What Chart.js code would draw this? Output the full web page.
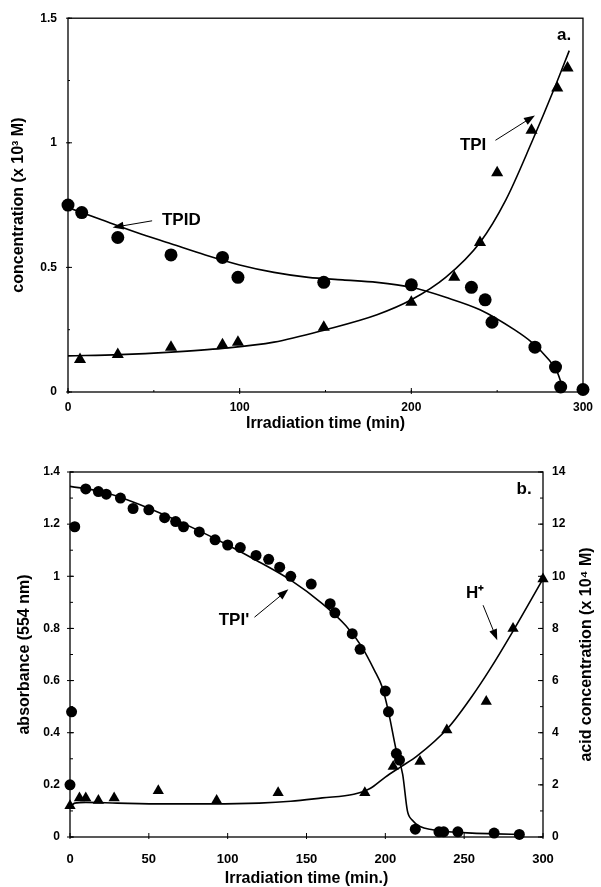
<!DOCTYPE html>
<html>
<head>
<meta charset="utf-8">
<script src="https://cdn.jsdelivr.net/npm/chart.js@4.4.1/dist/chart.umd.min.js"></script>
<style>
  html, body { margin: 0; padding: 0; background: #fff; }
  body { width: 601px; height: 887px; position: relative; overflow: hidden; }
  canvas { position: absolute; left: 0; }
  #chartA { top: 0; }
  #chartB { top: 440px; }
</style>
</head>
<body>
<canvas id="chartA" width="601" height="435"></canvas>
<canvas id="chartB" width="601" height="447"></canvas>
<script>
// ---- panel a: concentration (x 10^3 M) vs irradiation time (min) ----
var tpidTime = [0, 8, 29, 60, 90, 99, 149, 200, 235, 243, 247, 272, 284, 287, 300];
var tpidConc = [0.75, 0.72, 0.62, 0.55, 0.54, 0.46, 0.44, 0.43, 0.42, 0.37, 0.28, 0.18, 0.10, 0.02, 0.01];
var tpiTime = [7, 29, 60, 90, 99, 149, 200, 225, 240, 250, 270, 285, 291];
var tpiConc = [0.13, 0.15, 0.18, 0.19, 0.20, 0.26, 0.36, 0.46, 0.60, 0.88, 1.05, 1.22, 1.30];
// fitted curves
var tpidFitTime = [0, 20, 40, 60, 80, 100, 120, 140, 160, 180, 200, 220, 240, 260, 270, 280, 285, 289];
var tpidFit = [0.74, 0.69, 0.64, 0.595, 0.55, 0.51, 0.48, 0.46, 0.45, 0.44, 0.42, 0.38, 0.33, 0.25, 0.20, 0.13, 0.08, 0.0];
var tpiFitTime = [0, 30, 60, 90, 120, 150, 180, 200, 220, 240, 255, 270, 284, 292];
var tpiFit = [0.145, 0.15, 0.16, 0.175, 0.20, 0.25, 0.31, 0.37, 0.46, 0.60, 0.77, 1.0, 1.23, 1.37];

// ---- panel b: absorbance (554 nm) and acid concentration (x 10^4 M) ----
var radTime = [0, 1, 3, 10, 18, 23, 32, 40, 50, 60, 67, 72, 82, 92, 100, 108, 118, 126, 133, 140, 153, 165, 168, 179, 184, 200, 202, 207, 209, 219, 234, 237, 246, 269, 285];
var radAbs = [0.20, 0.48, 1.19, 1.335, 1.325, 1.315, 1.30, 1.26, 1.255, 1.225, 1.21, 1.19, 1.17, 1.14, 1.12, 1.11, 1.08, 1.065, 1.035, 1.00, 0.97, 0.895, 0.86, 0.78, 0.72, 0.56, 0.48, 0.32, 0.295, 0.03, 0.02, 0.02, 0.02, 0.015, 0.01];
var acidTime = [0, 6, 10, 18, 28, 56, 93, 132, 187, 205, 222, 239, 264, 281, 300];
var acidConc = [1.2, 1.5, 1.5, 1.4, 1.5, 1.77, 1.4, 1.7, 1.7, 2.7, 2.9, 4.1, 5.2, 8.0, 9.9];
// fitted curves
var radFitTime = [0, 20, 40, 60, 80, 100, 120, 140, 160, 175, 185, 193, 198, 202, 207, 211, 214, 217, 222, 230, 240, 255, 270, 285];
var radFit = [1.345, 1.325, 1.285, 1.235, 1.18, 1.12, 1.055, 0.985, 0.895, 0.81, 0.73, 0.64, 0.575, 0.48, 0.33, 0.24, 0.10, 0.065, 0.04, 0.028, 0.02, 0.015, 0.012, 0.01];
var acidFitTime = [0, 3, 10, 30, 60, 90, 120, 140, 160, 180, 190, 200, 210, 220, 240, 255, 266, 281, 300];
var acidFit = [1.15, 1.3, 1.33, 1.3, 1.27, 1.27, 1.3, 1.37, 1.5, 1.64, 1.85, 2.3, 2.7, 3.1, 4.2, 5.4, 6.4, 7.9, 9.9];

function pts(xs, ys) {
    return xs.map(function (x, i) { return {x: x, y: ys[i]}; });
}

Chart.defaults.font.family = '"Liberation Sans", Arial, sans-serif';
Chart.defaults.color = '#000';

// frame, little tick marks, labels with arrows
var decorPlugin = {
    id: 'decor',
    afterDraw: function (chart, args, opts) {
        var ctx = chart.ctx, a = chart.chartArea;
        ctx.save();
        ctx.strokeStyle = '#000';
        ctx.lineWidth = 1.3;
        ctx.strokeRect(a.left, a.top, a.right - a.left, a.bottom - a.top);

        ctx.lineWidth = 1;
        (opts.ticks || []).forEach(function (t) {
            var s = chart.scales[t.axis];
            var n = Math.round((s.max - s.min) / t.step);
            for (var i = 0; i <= n; i++) {
                var p = s.getPixelForValue(s.min + i * t.step);
                ctx.beginPath();
                if (t.axis === 'x') {
                    ctx.moveTo(p, a.bottom + t.out); ctx.lineTo(p, a.bottom - t.len);
                } else if (s.position === 'right') {
                    ctx.moveTo(a.right + t.out, p); ctx.lineTo(a.right - t.len, p);
                } else {
                    ctx.moveTo(a.left - t.out, p); ctx.lineTo(a.left + t.len, p);
                }
                ctx.stroke();
            }
        });

        var xs = chart.scales.x;
        ctx.font = 'bold 17px "Liberation Sans", Arial, sans-serif';
        ctx.fillStyle = '#000';
        ctx.textAlign = 'center';
        ctx.textBaseline = 'middle';
        (opts.labels || []).forEach(function (l) {
            var ys = chart.scales[l.axis || 'y'];
            ctx.fillText(l.text, xs.getPixelForValue(l.x), ys.getPixelForValue(l.y));
        });

        (opts.arrows || []).forEach(function (r) {
            var ys = chart.scales[r.axis || 'y'];
            var x1 = xs.getPixelForValue(r.x1), y1 = ys.getPixelForValue(r.y1);
            var x2 = xs.getPixelForValue(r.x2), y2 = ys.getPixelForValue(r.y2);
            var ang = Math.atan2(y2 - y1, x2 - x1);
            ctx.lineWidth = 1;
            ctx.beginPath();
            ctx.moveTo(x1, y1);
            ctx.lineTo(x2 - 6 * Math.cos(ang), y2 - 6 * Math.sin(ang));
            ctx.stroke();
            ctx.beginPath();
            ctx.moveTo(x2, y2);
            ctx.lineTo(x2 - 11 * Math.cos(ang) + 4 * Math.sin(ang), y2 - 11 * Math.sin(ang) - 4 * Math.cos(ang));
            ctx.lineTo(x2 - 11 * Math.cos(ang) - 4 * Math.sin(ang), y2 - 11 * Math.sin(ang) + 4 * Math.cos(ang));
            ctx.closePath();
            ctx.fill();
        });

        // right-hand title reads bottom to top like the left one
        if (opts.rightTitle) {
            ctx.save();
            ctx.translate(chart.width - opts.rightTitle.offset, (a.top + a.bottom) / 2);
            ctx.rotate(-Math.PI / 2);
            ctx.font = 'bold 16px "Liberation Sans", Arial, sans-serif';
            ctx.fillText(opts.rightTitle.text, 0, 0);
            ctx.restore();
        }
        ctx.restore();
    }
};

function curve(data, axis) {
    return {
        data: data, yAxisID: axis || 'y', showLine: true, pointRadius: 0,
        borderColor: '#000', borderWidth: 1.6, cubicInterpolationMode: 'monotone', fill: false
    };
}
function marks(data, style, r, axis) {
    return {
        data: data, yAxisID: axis || 'y', showLine: false, pointStyle: style, pointRadius: r,
        backgroundColor: '#000', borderColor: '#000', borderWidth: 0, clip: false
    };
}

var noGrid = {display: false, drawTicks: false, tickLength: 0};
var tickFont = {size: 12, weight: 'bold'};
var titleFont = {size: 16, weight: 'bold'};
function plain(v) { return String(+v.toFixed(2)); }

new Chart(document.getElementById('chartA'), {
    type: 'scatter',
    data: {
        datasets: [
            curve(pts(tpidFitTime, tpidFit)),
            curve(pts(tpiFitTime, tpiFit)),
            marks(pts(tpidTime, tpidConc), 'circle', 6.5),
            marks(pts(tpiTime, tpiConc), 'triangle', 7)
        ]
    },
    options: {
        responsive: false,
        animation: false,
        layout: {padding: {top: 18, right: 11, left: 0, bottom: 0}},
        plugins: {
            legend: {display: false},
            tooltip: {enabled: false},
            decor: {
                ticks: [
                    {axis: 'x', step: 100, len: 4, out: 2},
                    {axis: 'x', step: 50, len: 2, out: 0},
                    {axis: 'y', step: 0.5, len: 4, out: 2},
                    {axis: 'y', step: 0.25, len: 2, out: 0}
                ],
                labels: [
                    {text: 'a.', x: 289, y: 1.43},
                    {text: 'TPID', x: 66, y: 0.69},
                    {text: 'TPI', x: 236, y: 0.99}
                ],
                arrows: [
                    {x1: 49, y1: 0.687, x2: 26, y2: 0.66},
                    {x1: 249, y1: 1.01, x2: 272, y2: 1.11}
                ]
            }
        },
        scales: {
            x: {
                type: 'linear', min: 0, max: 300,
                grid: noGrid, border: {display: false},
                ticks: {stepSize: 100, padding: 8, font: tickFont, callback: plain},
                title: {display: true, text: 'Irradiation time (min)', font: titleFont, padding: {top: 0, bottom: 2}},
                afterFit: function (s) { s.height = 43; }
            },
            y: {
                min: 0, max: 1.5,
                grid: noGrid, border: {display: false},
                ticks: {stepSize: 0.5, padding: 11, font: tickFont, callback: plain},
                title: {display: true, text: 'concentration (x 10³ M)', font: titleFont, padding: {top: 9, bottom: 0}},
                afterFit: function (s) { s.width = 68; }
            }
        }
    },
    plugins: [decorPlugin]
});

new Chart(document.getElementById('chartB'), {
    type: 'scatter',
    data: {
        datasets: [
            curve(pts(radFitTime, radFit)),
            curve(pts(acidFitTime, acidFit), 'y2'),
            marks(pts(radTime, radAbs), 'circle', 5.5),
            marks(pts(acidTime, acidConc), 'triangle', 6.5, 'y2')
        ]
    },
    options: {
        responsive: false,
        animation: false,
        layout: {padding: {top: 32, right: 0, left: 0, bottom: 0}},
        plugins: {
            legend: {display: false},
            tooltip: {enabled: false},
            decor: {
                ticks: [
                    {axis: 'x', step: 50, len: 4, out: 2},
                    {axis: 'y', step: 0.2, len: 4, out: 3},
                    {axis: 'y', step: 0.1, len: 3, out: 0},
                    {axis: 'y2', step: 2, len: 5, out: 0},
                    {axis: 'y2', step: 1, len: 3, out: 0}
                ],
                labels: [
                    {text: 'b.', x: 288, y: 1.334},
                    {text: 'H⁺', x: 257, y: 0.935},
                    {text: "TPI'", x: 104, y: 0.832}
                ],
                arrows: [
                    {x1: 262, y1: 0.889, x2: 271, y2: 0.755},
                    {x1: 117, y1: 0.843, x2: 138.5, y2: 0.95}
                ],
                rightTitle: {text: 'acid concentration (x 10⁴ M)', offset: 14}
            }
        },
        scales: {
            x: {
                type: 'linear', min: 0, max: 300,
                grid: noGrid, border: {display: false},
                ticks: {stepSize: 50, padding: 15, font: {size: 13, weight: 'bold'}, callback: plain},
                title: {display: true, text: 'Irradiation time (min.)', font: {size: 16, weight: 'bold', lineHeight: 1}, padding: {top: 0, bottom: 0}},
                afterFit: function (s) { s.height = 50; }
            },
            y: {
                position: 'left', min: 0, max: 1.4,
                grid: noGrid, border: {display: false},
                ticks: {stepSize: 0.2, padding: 10, font: tickFont, callback: plain},
                title: {display: true, text: 'absorbance (554 nm)', font: titleFont, padding: {top: 15, bottom: 0}},
                afterFit: function (s) { s.width = 70; }
            },
            y2: {
                position: 'right', min: 0, max: 14,
                grid: noGrid, border: {display: false},
                ticks: {stepSize: 2, padding: 9, font: tickFont, callback: plain},
                afterFit: function (s) { s.width = 58; }
            }
        }
    },
    plugins: [decorPlugin]
});
</script>
</body>
</html>
